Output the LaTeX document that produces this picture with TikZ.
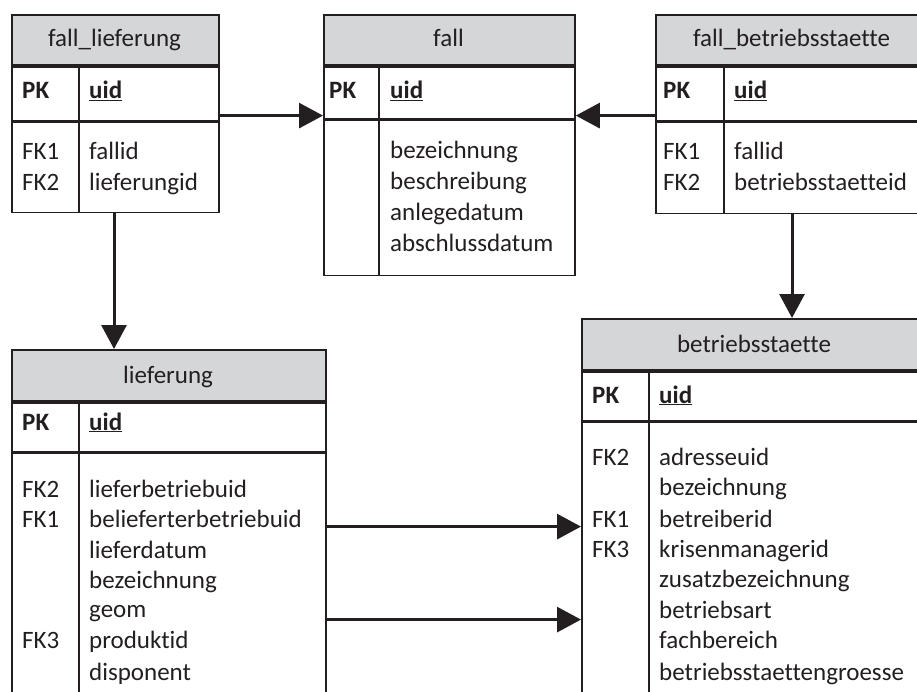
\documentclass[tikz,border=0pt]{standalone}
\usepackage{fontspec}
\setmainfont[Ligatures={NoCommon}]{Carlito}
\usetikzlibrary{arrows.meta}
\definecolor{ink}{RGB}{35,31,32}
\definecolor{headgray}{RGB}{213,214,216}
\begin{document}
\begin{tikzpicture}[x=1pt,y=-1pt,
  font=\fontsize{25}{30}\selectfont,
  cell/.style={draw=ink, line width=1.8pt, rectangle, anchor=north west, inner sep=0pt},
  head/.style={cell, fill=headgray},
  txt/.style={anchor=base west, inner sep=0pt, text=ink},
  ttl/.style={anchor=base, inner sep=0pt, text=ink},
  divider/.style={draw=ink, line width=1.8pt},
  rel/.style={draw=ink, line width=3pt, -{Triangle[length=24pt,width=25pt]}},
]
\useasboundingbox (0,0) rectangle (917,692);
\clip (0,0) rectangle (917,692);

% ---- fall_lieferung ----
\node[head, minimum width=207pt, minimum height=50pt] (flh) at (11,14) {};
\node[cell, minimum width=207pt, minimum height=54pt] (flpk) at (flh.south west) {};
\node[cell, minimum width=207pt, minimum height=90pt] (flb) at (flpk.south west) {};
\draw[divider] ([xshift=68pt]flpk.north west) -- ([xshift=68pt]flb.south west);
\node[ttl] (flt) at (114.5,47) {fall\_lieferung};
\node[txt] (flk0) at (22,99) {\textbf{PK}};
\node[txt] (flf0) at (89,99) {\textbf{\underline{uid}}};
\node[txt] (flk1) at (22,160) {FK1};
\node[txt] (flf1) at (89,160) {fallid};
\node[txt] (flk2) at (22,191) {FK2};
\node[txt] (flf2) at (89,191) {lieferungid};

% ---- fall ----
\node[head, minimum width=251pt, minimum height=50pt] (fallh) at (323,14) {};
\node[cell, minimum width=251pt, minimum height=52pt] (fallpk) at (fallh.south west) {};
\node[cell, minimum width=251pt, minimum height=155pt] (fallb) at (fallpk.south west) {};
\draw[divider] ([xshift=56pt]fallpk.north west) -- ([xshift=56pt]fallb.south west);
\node[ttl] (fallt) at (448.5,47) {fall};
\node[txt] (fallk0) at (329,99) {\textbf{PK}};
\node[txt] (fallf0) at (390,99) {\textbf{\underline{uid}}};
\node[txt] (fallf1) at (390,159) {bezeichnung};
\node[txt] (fallf2) at (390,190) {beschreibung};
\node[txt] (fallf3) at (390,221) {anlegedatum};
\node[txt] (fallf4) at (390,252) {abschlussdatum};

% ---- fall_betriebsstaette ----
\node[head, minimum width=273pt, minimum height=50pt] (fbh) at (655,14) {};
\node[cell, minimum width=273pt, minimum height=54pt] (fbpk) at (fbh.south west) {};
\node[cell, minimum width=273pt, minimum height=91pt] (fbb) at (fbpk.south west) {};
\draw[divider] ([xshift=69pt]fbpk.north west) -- ([xshift=69pt]fbb.south west);
\node[ttl] (fbt) at (791.5,47) {fall\_betriebsstaette};
\node[txt] (fbk0) at (663,99) {\textbf{PK}};
\node[txt] (fbf0) at (734,99) {\textbf{\underline{uid}}};
\node[txt] (fbk1) at (663,160) {FK1};
\node[txt] (fbf1) at (734,160) {fallid};
\node[txt] (fbk2) at (663,191) {FK2};
\node[txt] (fbf2) at (734,191) {betriebsstaetteid};

% ---- lieferung ----
\node[head, minimum width=314pt, minimum height=51pt] (lh) at (11,349) {};
\node[cell, minimum width=314pt, minimum height=49pt] (lpk) at (lh.south west) {};
\node[cell, minimum width=314pt, minimum height=271pt] (lb) at (lpk.south west) {};
\draw[divider] ([xshift=68pt]lpk.north west) -- ([xshift=68pt]lb.south west);
\node[ttl] (lt) at (168,383) {lieferung};
\node[txt] (lk0) at (22,430) {\textbf{PK}};
\node[txt] (lf0) at (89,430) {\textbf{\underline{uid}}};
\node[txt] (lk1) at (22,497) {FK2};
\node[txt] (lf1) at (89,497) {lieferbetriebuid};
\node[txt] (lk2) at (22,527) {FK1};
\node[txt] (lf2) at (89,527) {belieferterbetriebuid};
\node[txt] (lf3) at (89,558) {lieferdatum};
\node[txt] (lf4) at (89,588) {bezeichnung};
\node[txt] (lf5) at (89,617) {geom};
\node[txt] (lk6) at (22,648) {FK3};
\node[txt] (lf6) at (89,648) {produktid};
\node[txt] (lf7) at (89,680) {disponent};

% ---- betriebsstaette ----
\node[head, minimum width=346pt, minimum height=51pt] (bh) at (581,318) {};
\node[cell, minimum width=346pt, minimum height=49pt] (bpk) at (bh.south west) {};
\node[cell, minimum width=346pt, minimum height=302pt] (bb) at (bpk.south west) {};
\draw[divider] ([xshift=68pt]bpk.north west) -- ([xshift=68pt]bb.south west);
\node[ttl] (bt) at (754,352) {betriebsstaette};
\node[txt] (bk0) at (592,403) {\textbf{PK}};
\node[txt] (bf0) at (659,403) {\textbf{\underline{uid}}};
\node[txt] (bk1) at (592,465) {FK2};
\node[txt] (bf1) at (659,465) {adresseuid};
\node[txt] (bf2) at (659,495) {bezeichnung};
\node[txt] (bk3) at (592,527) {FK1};
\node[txt] (bf3) at (659,527) {betreiberid};
\node[txt] (bk4) at (592,557) {FK3};
\node[txt] (bf4) at (659,557) {krisenmanagerid};
\node[txt] (bf5) at (659,587) {zusatzbezeichnung};
\node[txt] (bf6) at (659,618) {betriebsart};
\node[txt] (bf7) at (659,648) {fachbereich};
\node[txt] (bf8) at (659,680) {betriebsstaettengroesse};

% ---- relations ----
\draw[rel] ([yshift=6pt]flpk.south east) -- ([yshift=4pt]fallpk.south west);
\draw[rel] ([yshift=6pt]fbpk.south west) -- ([yshift=4pt]fallpk.south east);
\draw[rel] ([xshift=103pt]flb.south west) -- ([xshift=103pt]lh.north west);
\draw[rel] ([xshift=137pt]fbb.south west) -- ([xshift=211pt]bh.north west);
\draw[rel] ([yshift=-74pt]lb.north east) -- ([yshift=-105pt]bb.north west);
\draw[rel] ([yshift=-167pt]lb.north east) -- ([yshift=-198pt]bb.north west);
\end{tikzpicture}
\end{document}
